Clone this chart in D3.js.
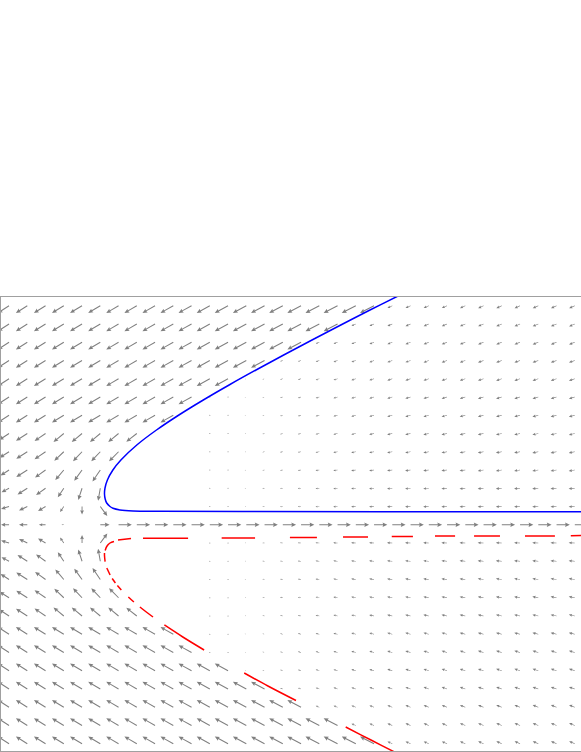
<!DOCTYPE html>
<html><head><meta charset="utf-8">
<script src="https://cdn.jsdelivr.net/npm/d3@7"></script>
<style>html,body{margin:0;padding:0;background:#fff;} svg{display:block;}</style>
</head><body>
<svg id="chart" width="581" height="752"></svg>
<script>
// ---------- data ----------
const xs = [0.0,0.1,0.2,0.3,0.4,0.5,0.6,0.7,0.8,0.9,1.0,1.1,1.2,1.3,1.4,1.5,1.6,1.7,1.8,1.9,2.0,2.1,2.2,2.3,2.4,2.5,2.6,2.7,2.8,2.9,3.0,3.1];
const ys = [1.2,1.1,1.0,0.9,0.8,0.7,0.6,0.5,0.4,0.3,0.2,0.1,0.0,-0.1,-0.2,-0.3,-0.4,-0.5,-0.6,-0.7,-0.8,-0.9,-1.0,-1.1,-1.2];

// last column index (per row) of the strong field, left of the curves
const lastStrongCol = [20,18,16,14,12,10,9,7,6,5,5,5,null,5,5,5,6,7,9,10,12,14,16,18,20];
// strong field: u per column, |v| common
const strongU = [-11.3,-11.4,-11.6,-11.8,-12.0,-12.1,-12.3,-12.4,-12.6,-12.8,-13.0,-13.1,-13.3,-13.4,-13.5,-13.6,-13.7,-13.8,-13.9,-14.0,-14.0];
const strongV = 7.2;
// strong field near the turning point (row index -> [u,v] per column)
const nearVertex = {
  7:  [[-10,-6.5],[-11.3,-7.2],[-11,-7.5],[-10.3,-8.5],[-10.3,-8.5],[-10.3,-8.5],[-10.3,-8.5],[-10.5,-8.3]],
  8:  [[-9.5,-6],[-11,-7],[-11,-7.5],[-9.5,-9],[-9,-9.5],[-9,-9.5],[-9.5,-9.5]],
  9:  [[-8.5,-5.5],[-11,-7],[-10.5,-7.5],[-8.5,-10],[-7.8,-10.8],[-7.8,-11.5]],
  10: [[-7.5,-4],[-9.8,-6.3],[-9.5,-6.8],[-6,-9],[-3.8,-11.7],[-2.2,-12.5]],
  11: [[-8,-2.5],[-8.3,-4],[-7.5,-4.5],[-3.8,-5.5],[0,-8],[7,-9.5]],
  13: [[-8,2.5],[-8.3,4],[-7.5,4.5],[-3.8,5.5],[0,8],[7,9.5]],
  14: [[-7.5,4],[-9.8,6.3],[-9.5,6.8],[-6,9],[-3.8,11.7],[-2.2,12.5]],
  15: [[-8.5,5.5],[-11,7],[-10.5,7.5],[-8.5,10],[-7.8,10.8],[-7.8,11.5]],
  16: [[-9.5,6],[-11,7],[-11,7.5],[-9.5,9],[-9,9.5],[-9,9.5],[-9.5,9.5]],
  17: [[-10,6.5],[-11.3,7.2],[-11,7.5],[-10.3,8.5],[-10.3,8.5],[-10.3,8.5],[-10.3,8.5],[-10.5,8.3]]
};
// the y = 0 row
const axisRowU = [-8,-8.3,-6.7,-2.3,0,9.3,13.3,13.3,13.3,13.3,13.3,13.3,13.3,13.3,13.3,13.3,13.3,13.3,13.3,13.3,13.3,13.3,13.3,13.3,13.3,13.3,13.3,13.3,13.3,13.3,13.3,13.3];
// weak field right of the curves: magnitude per column, slope per row
const weakLen = [0,0,0,0,0,0,0,0,0,0,0,0.5,1.0,1.6,2.2,2.8,3.3,3.8,4.3,4.7,5.0,5.3,5.5,5.6,5.7,5.8,5.9,6.0,6.0,6.1,6.1,6.2];
const weakSlope = [-0.45,-0.42,-0.39,-0.36,-0.33,-0.30,-0.27,-0.23,-0.19,-0.15,-0.10,-0.05,0,0.05,0.10,0.15,0.19,0.23,0.27,0.30,0.33,0.36,0.39,0.42,0.45];

// blue trajectory
const blueCurve = [[2.1312,1.2534],[1.9778,1.1767],[1.8178,1.0945],[1.6600,1.0123],[1.5049,0.9301],[1.3532,0.8479],[1.2058,0.7658],[1.0644,0.6836],[0.9307,0.6014],[0.8079,0.5192],[0.7000,0.4370],[0.6129,0.3548],[0.5690,0.3000],[0.5389,0.2452],[0.5258,0.2014],[0.5230,0.1685],[0.5268,0.1411],[0.5351,0.1192],[0.5532,0.1000],[0.5696,0.0901],[0.6079,0.0808],[0.6792,0.0753],[0.8271,0.0737],[1.3203,0.0726],[2.1422,0.0715],[3.1504,0.0710]];
// red dashed trajectory, one entry per visible dash
const redDashes = [
  [[0.5970,-0.0836],[0.6682,-0.0748]],
  [[0.5268,-0.1411],[0.5351,-0.1192],[0.5532,-0.1000],[0.5751,-0.0918]],
  [[0.5230,-0.1548],[0.5230,-0.1685],[0.5263,-0.2025]],
  [[0.5356,-0.2370],[0.5537,-0.2753]],
  [[0.5652,-0.2945],[0.5827,-0.3192]],
  [[0.5937,-0.3329],[0.6151,-0.3575]],
  [[0.6534,-0.3959],[0.6841,-0.4233]],
  [[0.7170,-0.4507],[0.7521,-0.4781],[0.7888,-0.5055]],
  [[0.8512,-0.5493],[0.9521,-0.6151],[1.0688,-0.6863]],
  [[1.2885,-0.8123],[1.4184,-0.8836],[1.5723,-0.9630]],
  [[1.8447,-1.1082],[1.9833,-1.1795],[2.1340,-1.2562]],
  [[0.734,-0.0742],[0.981,-0.0742]],
  [[1.165,-0.0726],[1.348,-0.0726]],
  [[1.539,-0.0699],[1.687,-0.0699]],
  [[1.830,-0.0671],[1.967,-0.0671]],
  [[2.097,-0.0644],[2.213,-0.0644]],
  [[2.334,-0.0616],[2.444,-0.0616]],
  [[2.548,-0.0616],[2.690,-0.0616]],
  [[2.827,-0.0616],[2.991,-0.0616]],
  [[3.078,-0.060],[3.160,-0.059]]
];
const frameX = [-0.0468, 3.20];
const frameY = [1.2503, -1.2425];

// ---------- drawing ----------
const svg = d3.select('#chart');
const x = d3.scaleLinear().domain([0, 3.1]).range([9.05, 574.8]);
const y = d3.scaleLinear().domain([1.2, -1.2]).range([305.75, 743.75]);
const mag = d3.scaleLinear().domain([0, 1]).range([0, 1]);

const defs = svg.append('defs');
defs.append('clipPath').attr('id','clip').append('rect')
  .attr('x', x(frameX[0])).attr('y', y(frameY[0]))
  .attr('width', x(frameX[1]) - x(frameX[0])).attr('height', y(frameY[1]) - y(frameY[0]));

const plot = svg.append('g').attr('clip-path','url(#clip)');

// build field vectors
const field = [];
ys.forEach((yv, j) => {
  xs.forEach((xv, i) => {
    let u, v;
    if (j === 12) { u = axisRowU[i]; v = 0; }
    else if (i <= lastStrongCol[j]) {
      if (nearVertex[j] && nearVertex[j][i]) { u = nearVertex[j][i][0]; v = nearVertex[j][i][1]; }
      else { u = strongU[i]; v = j < 12 ? -strongV : strongV; }
    } else {
      const L = weakLen[i], s = weakSlope[j];
      u = -L / Math.sqrt(1 + s * s); v = Math.abs(u) * s;
    }
    field.push({x: xv, y: yv, u, v});
  });
});

const gray = '#808080';
const W = 1.05, HL = 4.8, HAL = 4.2, HHW = 2.15, LMIN = 9;
function arrowPath(L) {
  const Lc = Math.max(L, LMIN);
  const pts = [[0,-W/2],[Lc-HAL,-W/2],[Lc-HL,-HHW],[Lc,0],[Lc-HL,HHW],[Lc-HAL,W/2],[0,W/2]];
  return 'M' + pts.map(p => p.join(',')).join('L') + 'Z';
}
const ag = plot.append('g').attr('fill', gray);
field.forEach(d => {
  const dx = mag(d.u), dy = -mag(d.v);
  const L = Math.hypot(dx, dy);
  const px = x(d.x), py = y(d.y);
  if (L < 0.3) return;
  if (L < 1.2) {
    ag.append('circle').attr('cx', px).attr('cy', py).attr('r', 0.6).attr('opacity', 0.8);
    return;
  }
  const s = L < LMIN ? L / LMIN : 1;
  const ang = Math.atan2(dy, dx) * 180 / Math.PI;
  ag.append('path').attr('d', arrowPath(L))
    .attr('transform', `translate(${px},${py}) rotate(${ang}) scale(${s})`);
});

// curves
const smooth = d3.line().x(d => x(d[0])).y(d => y(d[1])).curve(d3.curveCatmullRom.alpha(0.5));
plot.append('path').datum(blueCurve).attr('d', smooth)
  .attr('fill','none').attr('stroke','#0000ff').attr('stroke-width',1.5);
plot.selectAll('path.red').data(redDashes).enter().append('path').attr('class','red')
  .attr('d', smooth).attr('fill','none').attr('stroke','#ff0000').attr('stroke-width',1.5);

// frame
svg.append('rect')
  .attr('x', x(frameX[0])).attr('y', y(frameY[0]))
  .attr('width', x(frameX[1]) - x(frameX[0])).attr('height', y(frameY[1]) - y(frameY[0]))
  .attr('fill','none').attr('stroke','#a0a0a0').attr('stroke-width',1).attr('shape-rendering','crispEdges');
</script>
</body></html>
